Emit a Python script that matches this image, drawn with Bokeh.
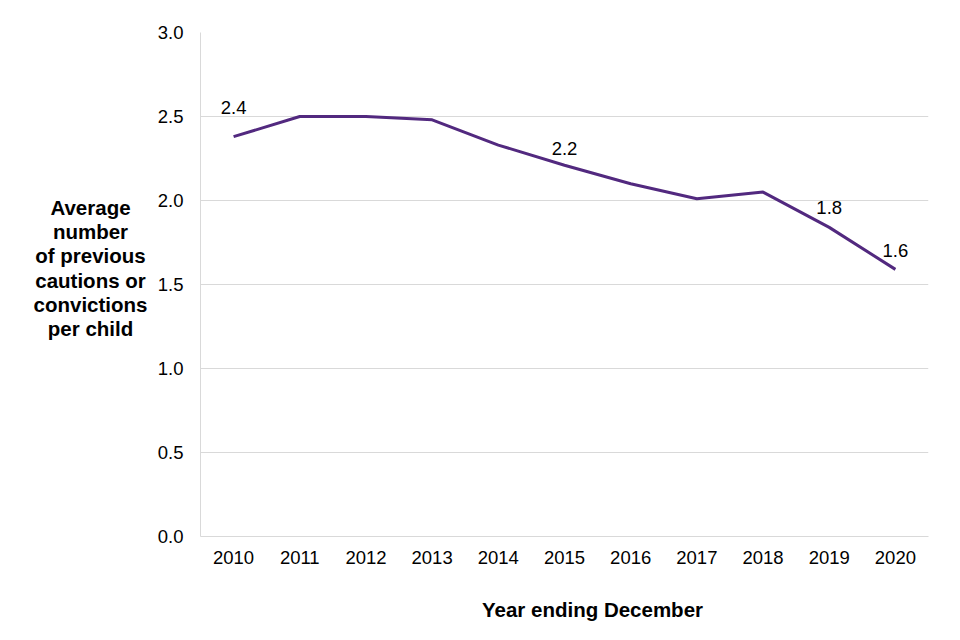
from bokeh.plotting import figure
from bokeh.models import FixedTicker, ColumnDataSource, Range1d, NumeralTickFormatter
from bokeh.layouts import row, column
from bokeh.embed import file_html
from bokeh.resources import INLINE
from bokeh.core.properties import value

years = [2010, 2011, 2012, 2013, 2014, 2015, 2016, 2017, 2018, 2019, 2020]
avg_previous = [2.38, 2.50, 2.50, 2.48, 2.33, 2.21, 2.10, 2.01, 2.05, 1.84, 1.59]
labelled_years = [2010, 2015, 2019, 2020]
labelled_values = [2.38, 2.21, 1.84, 1.59]
labelled_text = ["2.4", "2.2", "1.8", "1.6"]
y_ticks = [0.0, 0.5, 1.0, 1.5, 2.0, 2.5, 3.0]
y_title_lines = ["Average", "number", "of previous", "cautions or", "convictions", "per child"]
x_title = "Year ending December"

FONT = "Liberation Sans"
PURPLE = "#52297f"
GRID = "#d9d9d9"


def blank(w, h, y0, y1):
    f = figure(width=w, height=h, output_backend="svg", toolbar_location=None,
               x_range=Range1d(0, w), y_range=Range1d(y0, y1),
               x_axis_location=None, y_axis_location=None,
               min_border=0, min_border_left=0, min_border_right=0,
               min_border_top=0, min_border_bottom=0)
    f.outline_line_color = None
    f.grid.visible = False
    return f


# left panel: horizontal, multi-line y-axis title (frame is aligned with the main chart's frame)
left = blank(150, 580, 536, 32)
left.text(x=[90] * len(y_title_lines), y=[207, 231, 255, 280, 304, 328], text=y_title_lines,
          text_font=value(FONT), text_font_size="20.5px", text_font_style="bold",
          text_align="center", text_baseline="middle", text_color="#000000")

# main chart
p = figure(width=794, height=580, output_backend="svg", toolbar_location=None,
           x_range=Range1d(2009.5, 2020.5), y_range=Range1d(0, 3.0),
           min_border_left=50, min_border_right=16, min_border_top=32, min_border_bottom=44)
p.outline_line_color = None
p.xgrid.grid_line_color = None
p.ygrid.grid_line_color = GRID
p.ygrid.grid_line_width = 1

p.yaxis.ticker = FixedTicker(ticks=y_ticks)
p.yaxis.formatter = NumeralTickFormatter(format="0.0")
p.xaxis.ticker = FixedTicker(ticks=years)

for ax in (p.xaxis, p.yaxis):
    ax.axis_line_color = GRID
    ax.major_tick_line_color = None
    ax.minor_tick_line_color = None
    ax.major_label_text_font = FONT
    ax.major_label_text_font_size = "18.5px"
    ax.major_label_text_color = "#000000"
    ax.major_label_standoff = 11
p.xaxis.major_label_standoff = 8

src = ColumnDataSource(dict(x=years, y=avg_previous))
p.line("x", "y", source=src, line_color=PURPLE, line_width=3)

lsrc = ColumnDataSource(dict(x=labelled_years, y=labelled_values, t=labelled_text,
                             off=[-29, -17, -20, -19]))
p.text("x", "y", text="t", source=lsrc, y_offset="off", text_font=value(FONT),
       text_font_size="18.5px", text_align="center", text_baseline="middle", text_color="#000000")

# bottom panel: x-axis title
bottom = blank(944, 44, 44, 0)
bottom.text(x=[592], y=[29], text=[x_title],
            text_font=value(FONT), text_font_size="20.5px", text_font_style="bold",
            text_align="center", text_baseline="middle", text_color="#000000")

layout = column(row(left, p, spacing=0), bottom, spacing=0)

open("out.html", "w").write(file_html(layout, INLINE))
